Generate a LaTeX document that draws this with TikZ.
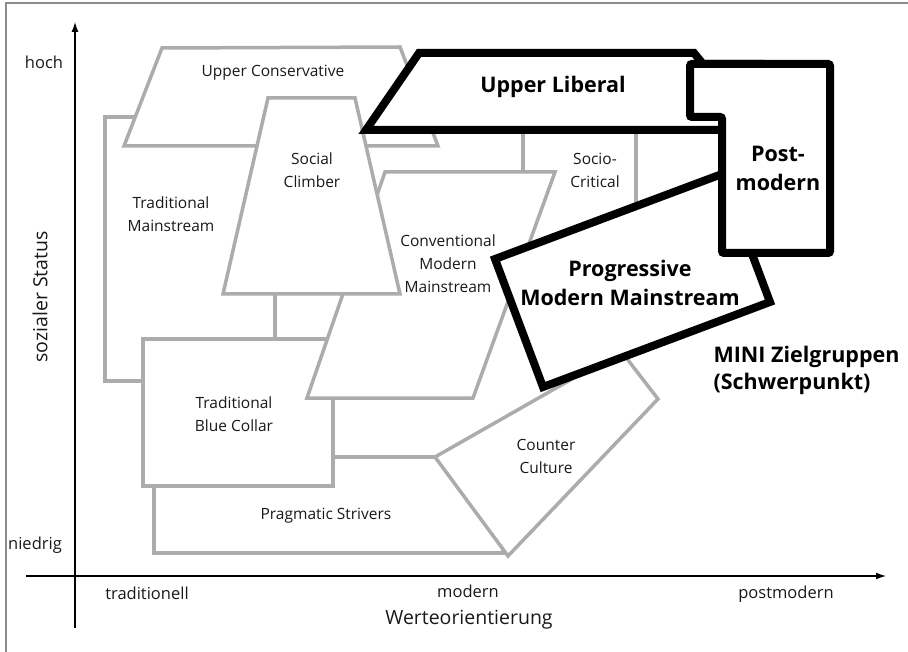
\documentclass[tikz,border=0pt]{standalone}
\usepackage{fontspec}
\setmainfont{Open Sans}
\usetikzlibrary{arrows.meta}
\definecolor{grpgray}{RGB}{172,172,172}
\definecolor{framegray}{RGB}{140,140,140}
\definecolor{txt}{RGB}{25,25,25}

\begin{document}
\begin{tikzpicture}[x=1pt,y=-1pt,
    grp/.style={draw=grpgray, line width=3.5pt, fill=white},
    mini/.style={draw=black, line width=8pt, fill=white},
    lbl/.style={text=txt, align=center, font=\fontsize{15.5}{23}\selectfont},
    tick/.style={text=txt, font=\fontsize{16.5}{20}\selectfont},
    big/.style={text=black, align=center, font=\bfseries\fontsize{21.5}{29}\selectfont},
    axlbl/.style={text=txt, font=\fontsize{19.5}{24}\selectfont}]
  \useasboundingbox (0,0) rectangle (908,652);
  \draw[framegray, line width=2pt] (6,665) -- (6,3) -- (915,3);
  % axes
  \draw[line width=1.3pt, -{Latex[length=10pt,width=7pt]}] (26,576) -- (886,576);
  \draw[line width=1.3pt, -{Latex[length=10pt,width=7pt]}] (75,628) -- (75,22);
  \node[tick] (hoch) at (44,62) {hoch};
  \node[tick] (niedrig) at (35,545) {niedrig};
  \node[tick] (trad) at (147,593) {traditionell};
  \node[tick] (mod) at (468,591) {modern};
  \node[tick] (pmod) at (786,594) {postmodern};
  \node[axlbl] (werte) at (469,620) {Werteorientierung};
  \node[axlbl, rotate=90] (status) at (40,297) {sozialer Status};
  % milieus
  \filldraw[grp] (105,117) rectangle (275,381);
  \filldraw[grp] (124,146) -- (162,48) -- (400,47) -- (438,146) -- cycle;
  \filldraw[grp] (154,457) rectangle (503,553);
  \filldraw[grp] (143,339) rectangle (333,486);
  \filldraw[grp] (523,120) rectangle (636,255);
  \filldraw[grp] (307,398) -- (385,172) -- (555,172) -- (473,398) -- cycle;
  \filldraw[grp] (268,98) -- (355,98) -- (400,294) -- (223,294) -- cycle;
  \filldraw[grp] (435,457) -- (621,351) -- (658,399) -- (508,556) -- cycle;
  \filldraw[mini] (366,130) -- (419,53) -- (694,53) -- (703,64) -- (760,64) -- (760,130) -- cycle;
  \filldraw[mini] (495,259) -- (722,174) -- (770,302) -- (543,387) -- cycle;
  \filldraw[mini, rounded corners=2pt] (690,64) -- (830,64) -- (830,253) -- (722,253) -- (722,117) -- (690,117) -- cycle;
  \node[lbl] (upcons) at (273,73) {Upper Conservative};
  \node[lbl] (climber) at (312,170) {Social\\Climber};
  \node[lbl] (tradmain) at (171,214) {Traditional\\Mainstream};
  \node[lbl] (convmod) at (448,264) {Conventional\\Modern\\Mainstream};
  \node[lbl] (socio) at (595,170) {Socio-\\Critical};
  \node[lbl] (blue) at (234,414) {Traditional\\Blue Collar};
  \node[lbl] (strivers) at (326,516) {Pragmatic Strivers};
  \node[lbl] (counter) at (546,456) {Counter\\Culture};
  \node[big] (uplib) at (553,87) {Upper Liberal};
  \node[big] (postmod) at (778,168) {Post-\\modern};
  \node[big] (progmod) at (630,283) {Progressive\\Modern Mainstream};
  \node[big, align=left, anchor=west, font=\bfseries\fontsize{21.5}{27}\selectfont] (zielgr) at (710,370) {MINI Zielgruppen\\(Schwerpunkt)};
\end{tikzpicture}
\end{document}
